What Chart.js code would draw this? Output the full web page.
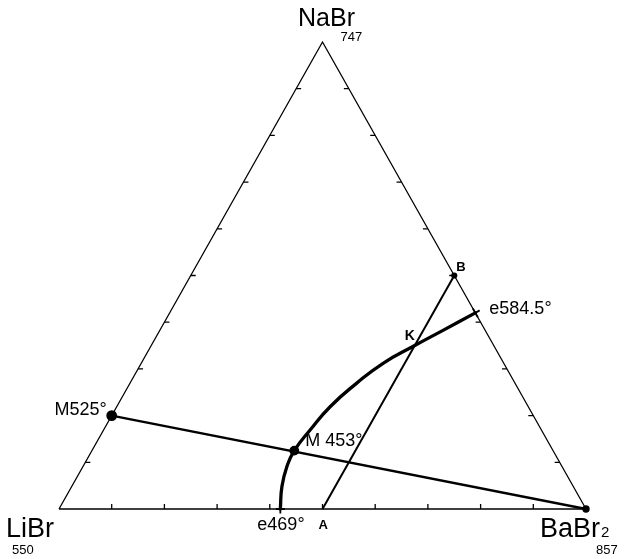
<!DOCTYPE html>
<html>
<head>
<meta charset="utf-8">
<title>LiBr – NaBr – BaBr2</title>
<script src="https://cdn.jsdelivr.net/npm/chart.js@4/dist/chart.umd.min.js"></script>
<style>
  html, body { margin: 0; padding: 0; background: #fff; }
  canvas { display: block; }
</style>
</head>
<body>
<canvas id="c" width="638" height="559"></canvas>
<script>
// Compositions are given in mol %: [NaBr, BaBr2]; LiBr is the remainder.
const vertexNames = ['LiBr', 'NaBr', 'BaBr'];
const vertexMeltingPoints = ['550', '747', '857'];
const vertexCompositions = [[0, 0], [100, 0], [0, 100]];

// Liquidus curve e469° – M 453° – K – e584.5°
const liquidusCurve = [
  [0, 42], [4.8, 39.9], [9.1, 38.7], [12.5, 38.4], [16.9, 39.2],
  [21.9, 40.5], [26.9, 43.0], [31.2, 45.9], [35, 50], [38.3, 53.8], [42, 58]
];
// Section M525° – BaBr2
const sectionM = [[20, 0], [0, 100]];
// Section A – B
const sectionAB = [[0, 50], [50, 50]];

// Labelled points
const pointNames = ['M525°', 'M 453°', 'e469°', 'e584.5°', 'A', 'B', 'K'];
const pointCompositions = [[20, 0], [12.5, 38.4], [0, 42], [42, 58], [0, 50], [50, 50], [35, 50]];

const tickSteps = [10, 20, 30, 40, 50, 60, 70, 80, 90];

// ternary composition -> triangle coordinates
function toXY(c) { return { x: c[1] + c[0] / 2, y: c[0] }; }

const FONT = '"Liberation Sans", Arial, sans-serif';

// marker style for each labelled point
const markerStyle = {
  'M525°':   { style: 'circle', r: 4.5, rot: 0 },
  'M 453°':  { style: 'circle', r: 4,   rot: 0 },
  'e469°':   { style: 'cross',  r: 4.5, rot: 0 },
  'e584.5°': { style: 'cross',  r: 5,   rot: 60 },
  'B':       { style: 'circle', r: 2.2, rot: 0 },
  'A':       { style: 'circle', r: 0,   rot: 0 },
  'K':       { style: 'circle', r: 0,   rot: 0 }
};

// text placement around each anchor (pixel offsets)
const pointLabelStyle = {
  'M525°':   { dx: -5,  dy: -1,   font: '18px', align: 'right' },
  'M 453°':  { dx: 11,  dy: -4.5, font: '18px', align: 'left' },
  'e469°':   { dx: -23, dy: 21,   font: '18px', align: 'left' },
  'e584.5°': { dx: 14,  dy: 1,    font: '18px', align: 'left' },
  'A':       { dx: -4,  dy: 20,   font: 'bold 13px', align: 'left' },
  'B':       { dx: 2,   dy: -5,   font: 'bold 13px', align: 'left' },
  'K':       { dx: -10, dy: -6,   font: 'bold 14px', align: 'left' }
};
const vertexLabelStyle = [
  { name: { dx: -53, dy: 28, font: '27px', align: 'left' },   mp: { dx: -47, dy: 45, align: 'left' } },
  { name: { dx: 4,   dy: -16, font: '25px', align: 'center' }, mp: { dx: 18, dy: -1, align: 'left' } },
  { name: { dx: -46, dy: 28, font: '27px', align: 'left', sub: '2' }, mp: { dx: 10, dy: 45, align: 'left' } }
];

const edgeData = [0, 1, 2, 0].map(i => toXY(vertexCompositions[i]));

const datasets = [
  { label: 'edges', data: edgeData, borderColor: '#000', borderWidth: 1.3, pointRadius: 0, showLine: true, tension: 0 },
  { label: 'M–BaBr2', data: sectionM.map(toXY), borderColor: '#000', borderWidth: 2.4, pointRadius: [0, 2.5], pointBackgroundColor: '#000', pointBorderColor: '#000', showLine: true, tension: 0 },
  { label: 'A–B', data: sectionAB.map(toXY), borderColor: '#000', borderWidth: 2, pointRadius: 0, showLine: true, tension: 0 },
  { label: 'liquidus', data: liquidusCurve.map(toXY), borderColor: '#000', borderWidth: 3.3, pointRadius: 0, showLine: true, tension: 0.5, borderCapStyle: 'round' },
  {
    label: 'points',
    data: pointCompositions.map(toXY),
    showLine: false,
    pointStyle: pointNames.map(n => markerStyle[n].style),
    pointRadius: pointNames.map(n => markerStyle[n].r),
    pointRotation: pointNames.map(n => markerStyle[n].rot),
    pointBackgroundColor: '#000',
    pointBorderColor: '#000',
    pointBorderWidth: 1.8
  }
];

// tick marks along the three sides, drawn through the chart scales
const ticksPlugin = {
  id: 'ternaryTicks',
  afterDatasetsDraw(chart) {
    const xs = chart.scales.x, ys = chart.scales.y, ctx = chart.ctx;
    const len = 5;
    ctx.save();
    ctx.strokeStyle = '#000';
    ctx.lineWidth = 1.3;
    ctx.beginPath();
    tickSteps.forEach(t => {
      // LiBr – BaBr2 side
      let p = toXY([0, t]);
      let px = xs.getPixelForValue(p.x), py = ys.getPixelForValue(p.y);
      ctx.moveTo(px, py); ctx.lineTo(px, py - len);
      // LiBr – NaBr side
      p = toXY([t, 0]);
      px = xs.getPixelForValue(p.x); py = ys.getPixelForValue(p.y);
      ctx.moveTo(px, py); ctx.lineTo(px + len, py);
      // NaBr – BaBr2 side
      p = toXY([t, 100 - t]);
      px = xs.getPixelForValue(p.x); py = ys.getPixelForValue(p.y);
      ctx.moveTo(px, py); ctx.lineTo(px - len, py);
    });
    ctx.stroke();
    ctx.restore();
  }
};

// vertex names, melting points and point labels
const labelsPlugin = {
  id: 'ternaryLabels',
  afterDatasetsDraw(chart) {
    const xs = chart.scales.x, ys = chart.scales.y, ctx = chart.ctx;
    const at = c => { const p = toXY(c); return [xs.getPixelForValue(p.x), ys.getPixelForValue(p.y)]; };
    ctx.save();
    ctx.fillStyle = '#000';
    ctx.textBaseline = 'alphabetic';
    vertexNames.forEach((name, i) => {
      const [px, py] = at(vertexCompositions[i]);
      const s = vertexLabelStyle[i];
      ctx.font = s.name.font + ' ' + FONT;
      ctx.textAlign = s.name.align;
      const x0 = px + s.name.dx, y0 = py + s.name.dy;
      ctx.fillText(name, x0, y0);
      if (s.name.sub) {
        const w = ctx.measureText(name).width;
        ctx.font = '15px ' + FONT;
        ctx.textAlign = 'left';
        ctx.fillText(s.name.sub, x0 + w + 1, y0);
      }
      ctx.font = '13px ' + FONT;
      ctx.textAlign = s.mp.align;
      ctx.fillText(vertexMeltingPoints[i], px + s.mp.dx, py + s.mp.dy);
    });
    pointNames.forEach((name, i) => {
      const [px, py] = at(pointCompositions[i]);
      const s = pointLabelStyle[name];
      ctx.font = s.font + ' ' + FONT;
      ctx.textAlign = s.align;
      ctx.fillText(name, px + s.dx, py + s.dy);
    });
    ctx.restore();
  }
};

new Chart(document.getElementById('c'), {
  type: 'scatter',
  data: { datasets },
  options: {
    responsive: false,
    animation: false,
    devicePixelRatio: 1,
    layout: { padding: { left: 59, right: 52, top: 42, bottom: 50 } },
    scales: {
      x: { type: 'linear', min: 0, max: 100, display: false },
      y: { type: 'linear', min: 0, max: 100, display: false }
    },
    datasets: { scatter: { clip: false } },
    plugins: { legend: { display: false }, tooltip: { enabled: false } }
  },
  plugins: [ticksPlugin, labelsPlugin]
});
</script>
</body>
</html>
